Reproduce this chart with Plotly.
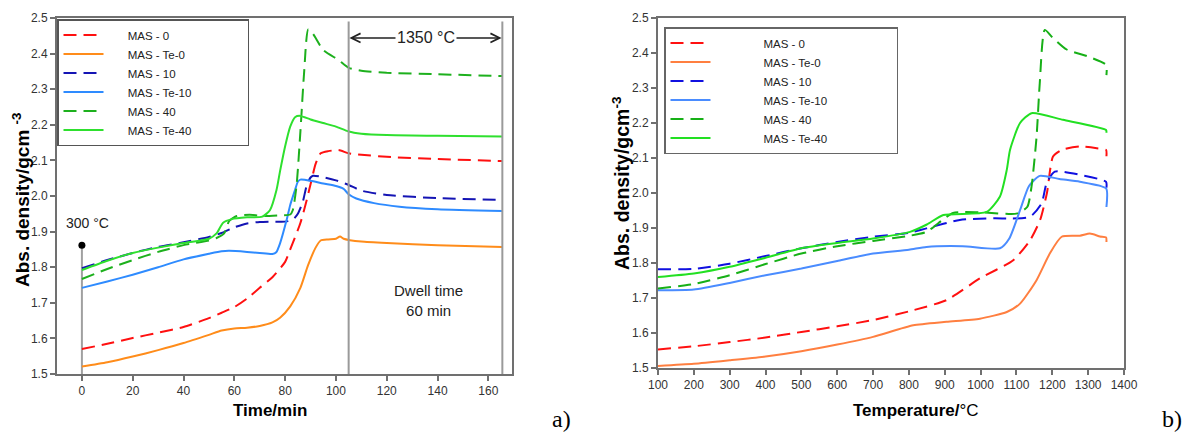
import plotly.graph_objects as go

# ---------------- data: a) density vs time ----------------
names = ["MAS - 0", "MAS - Te-0", "MAS - 10", "MAS - Te-10", "MAS - 40", "MAS - Te-40"]

t_mas0 = [0, 10, 20, 30, 40, 50, 55, 60, 65, 70, 75, 80, 82, 86, 88.5, 90.4, 92, 94, 97, 101, 105, 110, 120, 140, 165.5]
d_mas0 = [1.570, 1.585, 1.601, 1.616, 1.632, 1.657, 1.672, 1.688, 1.712, 1.742, 1.772, 1.815, 1.850, 1.924, 1.989, 2.045, 2.090, 2.120, 2.126, 2.129, 2.120, 2.116, 2.110, 2.104, 2.098]

t_te0 = [0, 10, 20, 30, 40, 50, 55, 60, 65, 70, 75, 78, 82, 86, 89, 92, 94, 97, 100, 101.6, 103, 105.5, 110, 120, 140, 165.5]
d_te0 = [1.521, 1.533, 1.549, 1.567, 1.587, 1.610, 1.622, 1.628, 1.630, 1.635, 1.645, 1.658, 1.690, 1.742, 1.805, 1.855, 1.875, 1.878, 1.880, 1.886, 1.880, 1.876, 1.872, 1.868, 1.862, 1.857]

t_mas10 = [0, 10, 20, 30, 40, 50, 55, 60, 65, 70, 75, 80, 83, 85, 87, 88.5, 90, 91, 95, 100, 105, 110, 120, 140, 165.5]
d_mas10 = [1.797, 1.820, 1.840, 1.857, 1.870, 1.885, 1.896, 1.912, 1.923, 1.927, 1.928, 1.928, 1.933, 1.950, 1.985, 2.030, 2.052, 2.057, 2.053, 2.044, 2.031, 2.015, 2.003, 1.994, 1.989]

t_te10 = [0, 10, 20, 30, 40, 50, 55, 58, 65, 70, 75, 76.5, 78, 80.6, 82, 83.9, 85, 86, 90, 95, 100, 103, 105, 108, 115, 125, 140, 165.5]
d_te10 = [1.742, 1.760, 1.779, 1.800, 1.822, 1.838, 1.845, 1.846, 1.843, 1.840, 1.837, 1.842, 1.867, 1.933, 1.975, 2.017, 2.040, 2.046, 2.043, 2.035, 2.028, 2.020, 2.005, 1.993, 1.980, 1.970, 1.963, 1.958]

t_mas40 = [0, 10, 20, 30, 40, 50, 53, 56, 58, 61, 66, 72, 78, 82, 83, 84.5, 86, 87.5, 89.1, 91, 95, 101, 105, 110, 120, 140, 165.5]
d_mas40 = [1.767, 1.795, 1.820, 1.843, 1.862, 1.875, 1.882, 1.895, 1.930, 1.944, 1.947, 1.944, 1.946, 1.948, 1.960, 2.030, 2.180, 2.350, 2.468, 2.455, 2.410, 2.382, 2.360, 2.352, 2.346, 2.342, 2.337]

t_te40 = [0, 10, 20, 30, 40, 50, 53, 55.6, 59, 65, 71, 74, 76.6, 78, 80, 82, 84, 86, 90, 95, 100, 105, 110, 120, 140, 165.5]
d_te40 = [1.792, 1.818, 1.840, 1.855, 1.868, 1.880, 1.895, 1.925, 1.935, 1.940, 1.942, 1.960, 2.017, 2.070, 2.140, 2.195, 2.222, 2.225, 2.215, 2.205, 2.195, 2.181, 2.175, 2.171, 2.169, 2.167]

# ---------------- data: b) density vs temperature ----------------
T_mas0 = [100, 200, 300, 400, 500, 600, 700, 812, 905, 998, 1091, 1138, 1166, 1185, 1202, 1226, 1277, 1324, 1350, 1351]
D_mas0 = [1.553, 1.562, 1.574, 1.587, 1.603, 1.619, 1.637, 1.665, 1.694, 1.756, 1.808, 1.865, 1.923, 2.000, 2.104, 2.123, 2.133, 2.128, 2.123, 2.105]

T_te0 = [100, 200, 300, 400, 500, 600, 700, 812, 905, 998, 1073, 1110, 1156, 1193, 1226, 1277, 1305, 1333, 1350, 1351]
D_te0 = [1.506, 1.512, 1.522, 1.533, 1.548, 1.567, 1.589, 1.622, 1.632, 1.641, 1.660, 1.684, 1.751, 1.827, 1.875, 1.878, 1.884, 1.876, 1.873, 1.860]

T_mas10 = [100, 200, 300, 400, 500, 600, 700, 800, 849, 942, 1040, 1082, 1138, 1170, 1184, 1207, 1277, 1350, 1351]
D_mas10 = [1.782, 1.783, 1.798, 1.820, 1.842, 1.860, 1.875, 1.886, 1.899, 1.923, 1.928, 1.927, 1.932, 1.970, 2.028, 2.061, 2.052, 2.032, 2.015]

T_te10 = [100, 200, 300, 400, 500, 600, 700, 800, 849, 950, 1054, 1080, 1110, 1135, 1165, 1220, 1277, 1350, 1351]
D_te10 = [1.722, 1.724, 1.743, 1.765, 1.784, 1.806, 1.827, 1.838, 1.846, 1.848, 1.842, 1.870, 1.951, 2.020, 2.049, 2.040, 2.032, 2.013, 1.960]

T_mas40 = [100, 200, 300, 400, 500, 600, 700, 803, 849, 923, 1000, 1100, 1130, 1142, 1156, 1165, 1179, 1200, 1240, 1300, 1350, 1351]
D_mas40 = [1.727, 1.740, 1.765, 1.797, 1.827, 1.848, 1.863, 1.878, 1.889, 1.943, 1.945, 1.941, 1.960, 2.018, 2.160, 2.314, 2.466, 2.445, 2.410, 2.390, 2.366, 2.337]

T_te40 = [100, 200, 300, 400, 500, 600, 700, 803, 850, 896, 1017, 1054, 1073, 1082, 1110, 1142, 1230, 1350, 1351]
D_te40 = [1.760, 1.770, 1.789, 1.815, 1.842, 1.857, 1.870, 1.889, 1.910, 1.937, 1.946, 1.990, 2.066, 2.123, 2.200, 2.228, 2.209, 2.180, 2.172]

colors_a = ["#FF1010", "#FF8C1A", "#1414B4", "#2E8BFF", "#1DB01D", "#2EE02E"]
colors_b = ["#FF1010", "#FF7F40", "#1010E0", "#4A8CFF", "#17B017", "#22E022"]
dashes = ["13px,7px", "solid", "13px,7px", "solid", "13px,7px", "solid"]

series_a = [(t_mas0, d_mas0), (t_te0, d_te0), (t_mas10, d_mas10),
            (t_te10, d_te10), (t_mas40, d_mas40), (t_te40, d_te40)]
series_b = [(T_mas0, D_mas0), (T_te0, D_te0), (T_mas10, D_mas10),
            (T_te10, D_te10), (T_mas40, D_mas40), (T_te40, D_te40)]

# page body has an 8px default margin: size the figure and place items accordingly
OFF = 8
W, H = 1201 - OFF, 437 - OFF


def fx(px):
    return (px - OFF) / W


def fy(py):
    return 1 - (py - OFF) / H


FONT = "Liberation Sans, Arial, sans-serif"
NB = "\u00a0"

fig = go.Figure()

# helper vertical marker at t = 0 (300 °C)
fig.add_trace(go.Scatter(x=[0, 0], y=[1.5, 1.862], mode="lines",
                         line=dict(color="#A0A0A0", width=2), showlegend=False,
                         hoverinfo="skip", xaxis="x", yaxis="y"))
fig.add_trace(go.Scatter(x=[0], y=[1.862], mode="markers",
                         marker=dict(color="black", size=7), showlegend=False,
                         hoverinfo="skip", xaxis="x", yaxis="y"))

for i, (x, y) in enumerate(series_a):
    fig.add_trace(go.Scatter(x=x, y=y, mode="lines", name=NB * 6 + names[i] + NB * 16,
                             line=dict(color=colors_a[i], width=2, dash=dashes[i],
                                       shape="spline", smoothing=0.6),
                             xaxis="x", yaxis="y", legend="legend"))

for i, (x, y) in enumerate(series_b):
    fig.add_trace(go.Scatter(x=x, y=y, mode="lines", name=NB * 15 + names[i] + NB * 20,
                             line=dict(color=colors_b[i], width=2, dash=dashes[i],
                                       shape="spline", smoothing=0.6),
                             xaxis="x2", yaxis="y2", legend="legend2"))

axis_common = dict(showline=True, linecolor="#707070", linewidth=2, mirror=True,
                   ticks="outside", ticklen=5, tickcolor="#707070", tickwidth=1.5,
                   showgrid=False, zeroline=False,
                   tickfont=dict(family=FONT, size=12, color="#333333"))

fig.update_layout(
    width=W, height=H,
    margin=dict(l=0, r=0, t=0, b=0, autoexpand=False),
    paper_bgcolor="white", plot_bgcolor="white",
    xaxis=dict(domain=[fx(57), fx(512)], range=[-9.8, 169.3],
               tickvals=[0, 20, 40, 60, 80, 100, 120, 140, 160], anchor="y", **axis_common),
    yaxis=dict(domain=[fy(374), fy(18)], range=[1.5, 2.5], dtick=0.1,
               tickformat=".1f", anchor="x", **axis_common),
    xaxis2=dict(domain=[fx(658), fx(1124)], range=[100, 1400], dtick=100,
                anchor="y2", **axis_common),
    yaxis2=dict(domain=[fy(368), fy(18)], range=[1.5, 2.5], dtick=0.1,
                tickformat=".1f", anchor="x2", **axis_common),
    legend=dict(x=fx(57), y=fy(19), xanchor="left", yanchor="top",
                bgcolor="white", bordercolor="#555555", borderwidth=1.5,
                font=dict(family=FONT, size=11.5, color="#222222"),
                tracegroupgap=0, itemwidth=40),
    legend2=dict(x=fx(664), y=fy(27), xanchor="left", yanchor="top",
                 bgcolor="white", bordercolor="#666666", borderwidth=1.5,
                 font=dict(family=FONT, size=11.5, color="#222222"),
                 tracegroupgap=0, itemwidth=40),
    showlegend=True,
)

# vertical lines marking the 1350 °C dwell
for xv in [105, 165.5]:
    fig.add_shape(type="line", xref="x", yref="y", x0=xv, x1=xv, y0=1.5, y1=2.49,
                  line=dict(color="#9A9A9A", width=2))

# double arrow
for xe in [105.3, 165.2]:
    fig.add_annotation(x=xe, y=2.444, ax=135.5, ay=2.444, xref="x", yref="y",
                       axref="x", ayref="y", text="", showarrow=True,
                       arrowhead=5, arrowsize=1.2, arrowwidth=1.5, arrowcolor="#222")
fig.add_annotation(x=135.5, y=2.444, xref="x", yref="y", text="1350 °C",
                   showarrow=False, bgcolor="white", xanchor="center", yanchor="middle",
                   font=dict(family=FONT, size=16, color="#222"))

fig.add_annotation(x=136.6, y=1.707, xref="x", yref="y", text="Dwell time<br>60 min",
                   showarrow=False, xanchor="center", yanchor="middle",
                   font=dict(family=FONT, size=15, color="#222"))
fig.add_annotation(x=0, y=1.862, xref="x", yref="y", text="300 °C", yshift=22,
                   xshift=6, showarrow=False, xanchor="center", yanchor="middle",
                   font=dict(family=FONT, size=14, color="#222"))

# axis titles
fig.add_annotation(x=fx(270), y=fy(410), xref="paper", yref="paper",
                   text="<b>Time/min</b>", showarrow=False, xanchor="center", yanchor="middle",
                   font=dict(family=FONT, size=17, color="black"))
fig.add_annotation(x=fx(916), y=fy(410), xref="paper", yref="paper",
                   text="<b>Temperature/</b>°C", showarrow=False, xanchor="center",
                   yanchor="middle", font=dict(family=FONT, size=17, color="black"))
fig.add_annotation(x=fx(21), y=fy(200), xref="paper", yref="paper",
                   text="<b>Abs. density/gcm <sup>-3</sup></b>", showarrow=False,
                   xanchor="center", yanchor="middle",
                   textangle=-90, font=dict(family=FONT, size=19, color="black"))
fig.add_annotation(x=fx(621), y=fy(183), xref="paper", yref="paper",
                   text="<b>Abs. density/gcm<sup>-3</sup></b>", showarrow=False,
                   xanchor="center", yanchor="middle",
                   textangle=-90, font=dict(family=FONT, size=19.5, color="black"))

# panel labels
fig.add_annotation(x=fx(561), y=fy(419), xref="paper", yref="paper", text="a)",
                   showarrow=False, xanchor="center", yanchor="middle",
                   font=dict(family="Liberation Serif, Times New Roman, serif",
                             size=24, color="black"))
fig.add_annotation(x=fx(1172), y=fy(419), xref="paper", yref="paper", text="b)",
                   showarrow=False, xanchor="center", yanchor="middle",
                   font=dict(family="Liberation Serif, Times New Roman, serif",
                             size=24, color="black"))

fig.write_html("out.html")
